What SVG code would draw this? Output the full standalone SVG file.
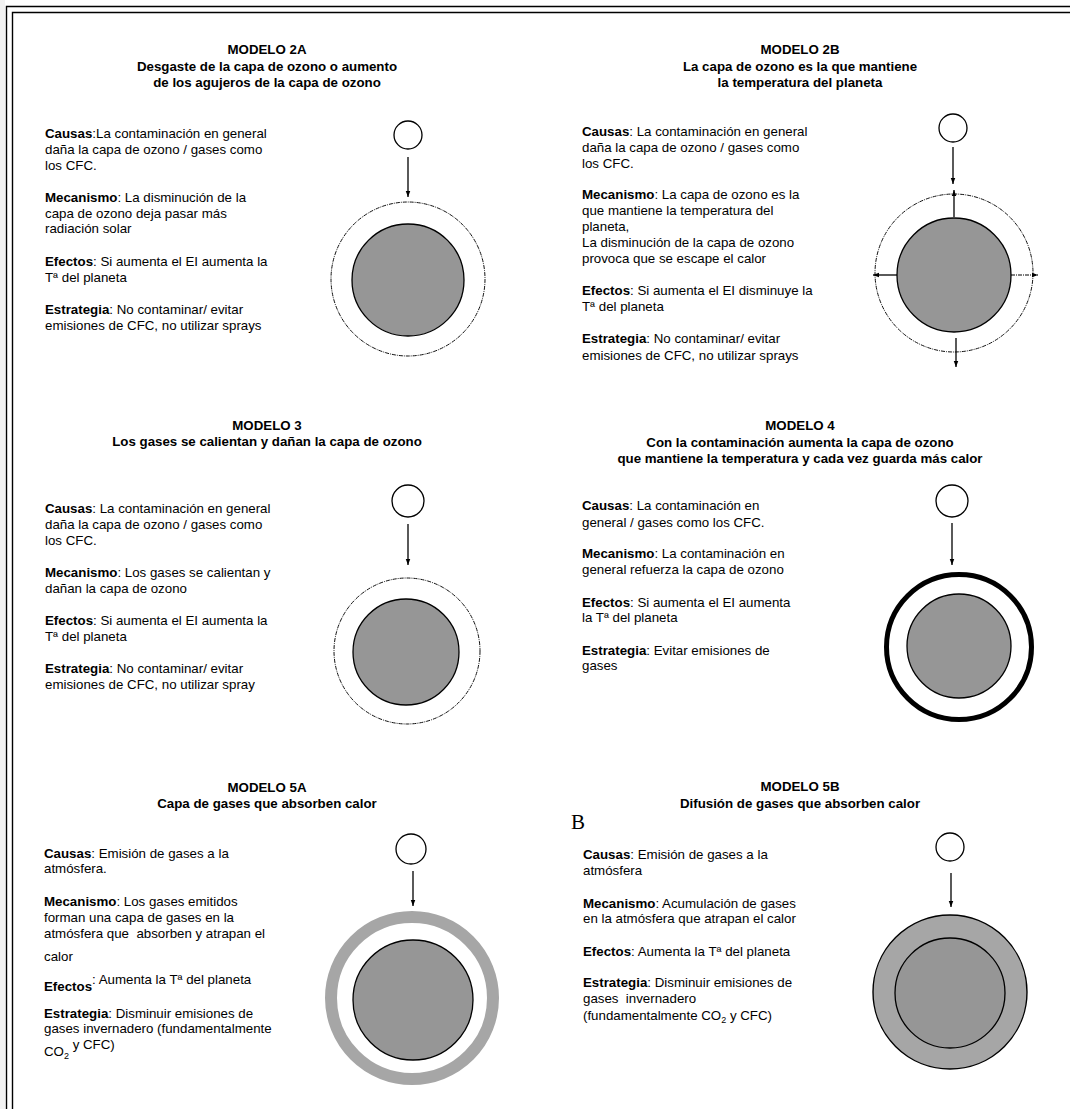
<svg xmlns="http://www.w3.org/2000/svg" width="1070" height="1109" viewBox="0 0 1070 1109">
<style>
text{font-family:"Liberation Sans",Arial,sans-serif;font-size:13.3px;fill:#000}
.h{font-weight:bold;text-anchor:middle}
.b{font-weight:bold}
.planet{fill:#969696;stroke:#000;stroke-width:1.3}
.sun{fill:#fff;stroke:#000;stroke-width:1.3}
.ozone{fill:none;stroke:#111;stroke-width:1;stroke-dasharray:4 1 1 1}
.arr{stroke:#000;stroke-width:1.3;fill:none;marker-end:url(#ah)}
.arrd{stroke:#000;stroke-width:1;fill:none;stroke-dasharray:4 1 1 1;marker-end:url(#ah)}
.frame{stroke:#000;stroke-width:1.4;fill:none}
</style>
<defs>
<marker id="ah" markerUnits="userSpaceOnUse" viewBox="0 0 8 8" markerWidth="6" markerHeight="6" refX="8" refY="4" orient="auto">
<path d="M0,1 L8,4 L0,7 z" fill="#000"/>
</marker>
</defs>
<rect width="1070" height="1109" fill="#fff"/>
<rect x="0" y="0" width="5" height="1109" fill="#f2f2f2"/>
<g id="frame">
<path class="frame" d="M6.5,1109 V6.5 H1070"/>
<path class="frame" d="M12.5,1109 V12.5 H1070"/>
</g>

<g id="modelo2a">
<text class="h" x="267" y="54">MODELO 2A</text>
<text class="h" x="267" y="71">Desgaste de la capa de ozono o aumento</text>
<text class="h" x="267" y="87">de los agujeros de la capa de ozono</text>
<text x="45" y="138"><tspan class="b">Causas</tspan>:La contaminación en general</text>
<text x="45" y="154">daña la capa de ozono / gases como</text>
<text x="45" y="170">los CFC.</text>
<text x="45" y="202"><tspan class="b">Mecanismo</tspan>: La disminución de la</text>
<text x="45" y="218">capa de ozono deja pasar más</text>
<text x="45" y="233">radiación solar</text>
<text x="45" y="266"><tspan class="b">Efectos</tspan>: Si aumenta el EI aumenta la</text>
<text x="45" y="282">Tª del planeta</text>
<text x="45" y="314"><tspan class="b">Estrategia</tspan>: No contaminar/ evitar</text>
<text x="45" y="330">emisiones de CFC, no utilizar sprays</text>
<circle class="sun" cx="408" cy="135" r="14"/>
<circle class="ozone" cx="408" cy="279" r="77"/>
<circle class="planet" cx="408" cy="280" r="56"/>
</g>

<g id="modelo2b">
<text class="h" x="800" y="54">MODELO 2B</text>
<text class="h" x="800" y="71">La capa de ozono es la que mantiene</text>
<text class="h" x="800" y="87">la temperatura del planeta</text>
<text x="582" y="136"><tspan class="b">Causas</tspan>: La contaminación en general</text>
<text x="582" y="152">daña la capa de ozono / gases como</text>
<text x="582" y="168">los CFC.</text>
<text x="582" y="199"><tspan class="b">Mecanismo</tspan>: La capa de ozono es la</text>
<text x="582" y="215">que mantiene la temperatura del</text>
<text x="582" y="231">planeta,</text>
<text x="582" y="247">La disminución de la capa de ozono</text>
<text x="582" y="263">provoca que se escape el calor</text>
<text x="582" y="295"><tspan class="b">Efectos</tspan>: Si aumenta el EI disminuye la</text>
<text x="582" y="311">Tª del planeta</text>
<text x="582" y="343"><tspan class="b">Estrategia</tspan>: No contaminar/ evitar</text>
<text x="582" y="360">emisiones de CFC, no utilizar sprays</text>
<circle class="sun" cx="953" cy="128" r="14"/>
<circle class="ozone" cx="954" cy="273" r="79"/>
<circle class="planet" cx="954" cy="275" r="57"/>
</g>

<g id="modelo3">
<text class="h" x="267" y="430">MODELO 3</text>
<text class="h" x="267" y="446">Los gases se calientan y dañan la capa de ozono</text>
<text x="45" y="513"><tspan class="b">Causas</tspan>: La contaminación en general</text>
<text x="45" y="529">daña la capa de ozono / gases como</text>
<text x="45" y="545">los CFC.</text>
<text x="45" y="577"><tspan class="b">Mecanismo</tspan>: Los gases se calientan y</text>
<text x="45" y="593">dañan la capa de ozono</text>
<text x="45" y="625"><tspan class="b">Efectos</tspan>: Si aumenta el EI aumenta la</text>
<text x="45" y="641">Tª del planeta</text>
<text x="45" y="673"><tspan class="b">Estrategia</tspan>: No contaminar/ evitar</text>
<text x="45" y="689">emisiones de CFC, no utilizar spray</text>
<circle class="sun" cx="408" cy="501" r="16"/>
<circle class="ozone" cx="407" cy="651" r="73"/>
<circle class="planet" cx="406" cy="652" r="53"/>
</g>

<g id="modelo4">
<text class="h" x="800" y="430">MODELO 4</text>
<text class="h" x="800" y="447">Con la contaminación aumenta la capa de ozono</text>
<text class="h" x="800" y="463">que mantiene la temperatura y cada vez guarda más calor</text>
<text x="582" y="510"><tspan class="b">Causas</tspan>: La contaminación en</text>
<text x="582" y="527">general / gases como los CFC.</text>
<text x="582" y="558"><tspan class="b">Mecanismo</tspan>: La contaminación en</text>
<text x="582" y="574">general refuerza la capa de ozono</text>
<text x="582" y="607"><tspan class="b">Efectos</tspan>: Si aumenta el EI aumenta</text>
<text x="582" y="622">la Tª del planeta</text>
<text x="582" y="655"><tspan class="b">Estrategia</tspan>: Evitar emisiones de</text>
<text x="582" y="670">gases</text>
<circle class="sun" cx="952" cy="501" r="16"/>
<circle cx="959" cy="647" r="72.5" fill="none" stroke="#000" stroke-width="5"/>
<circle class="planet" cx="959" cy="646" r="52"/>
</g>

<g id="modelo5a">
<text class="h" x="267" y="792">MODELO 5A</text>
<text class="h" x="267" y="808">Capa de gases que absorben calor</text>
<text x="44" y="858"><tspan class="b">Causas</tspan>: Emisión de gases a la</text>
<text x="44" y="873">atmósfera.</text>
<text x="44" y="906"><tspan class="b">Mecanismo</tspan>: Los gases emitidos</text>
<text x="44" y="922">forman una capa de gases en la</text>
<text x="44" y="938" xml:space="preserve">atmósfera que  absorben y atrapan el</text>
<text x="44" y="961">calor</text>
<text x="44" y="991"><tspan class="b">Efectos</tspan><tspan dy="-7">: Aumenta la Tª del planeta</tspan></text>
<text x="44" y="1018"><tspan class="b">Estrategia</tspan>: Disminuir emisiones de</text>
<text x="44" y="1033">gases invernadero (fundamentalmente</text>
<text x="44" y="1056">CO<tspan dy="3" font-size="9">2</tspan><tspan dy="-10"> y CFC)</tspan></text>
<circle class="sun" cx="411" cy="849" r="15"/>
<circle cx="412" cy="998" r="81" fill="none" stroke="#a6a6a6" stroke-width="12"/>
<circle class="planet" cx="413" cy="1000" r="60" stroke-width="1.6"/>
</g>

<g id="modelo5b">
<text class="h" x="800" y="791">MODELO 5B</text>
<text class="h" x="800" y="808">Difusión de gases que absorben calor</text>
<text x="571" y="829" style="font-family:'Liberation Serif','Times New Roman',serif;font-size:21px">B</text>
<text x="583" y="859"><tspan class="b">Causas</tspan>: Emisión de gases a la</text>
<text x="583" y="875">atmósfera</text>
<text x="583" y="908"><tspan class="b">Mecanismo</tspan>: Acumulación de gases</text>
<text x="583" y="923">en la atmósfera que atrapan el calor</text>
<text x="583" y="956"><tspan class="b">Efectos</tspan>: Aumenta la Tª del planeta</text>
<text x="583" y="987"><tspan class="b">Estrategia</tspan>: Disminuir emisiones de</text>
<text x="583" y="1003" xml:space="preserve">gases  invernadero</text>
<text x="583" y="1020">(fundamentalmente CO<tspan dy="3" font-size="9">2</tspan><tspan dy="-3"> y CFC)</tspan></text>
<circle class="sun" cx="950" cy="847" r="14"/>
<circle cx="950" cy="992" r="77" fill="#a6a6a6" stroke="#000" stroke-width="1.4"/>
<circle class="planet" cx="950" cy="993" r="55"/>
</g>

<g id="connectors">
<line class="arr" x1="408" y1="157" x2="408" y2="197"/>
<line class="arr" x1="953" y1="147" x2="953" y2="184"/>
<line class="arr" x1="954" y1="217" x2="954" y2="190"/>
<line class="arr" x1="897" y1="275" x2="873" y2="275"/>
<line class="arrd" x1="1011" y1="275" x2="1038" y2="275"/>
<line class="arr" x1="956" y1="338" x2="956" y2="367"/>
<line class="arr" x1="408" y1="524" x2="408" y2="565"/>
<line class="arr" x1="952" y1="523" x2="952" y2="565"/>
<line class="arr" x1="413" y1="871" x2="413" y2="906"/>
<line class="arr" x1="951" y1="873" x2="951" y2="907"/>
</g>
</svg>
